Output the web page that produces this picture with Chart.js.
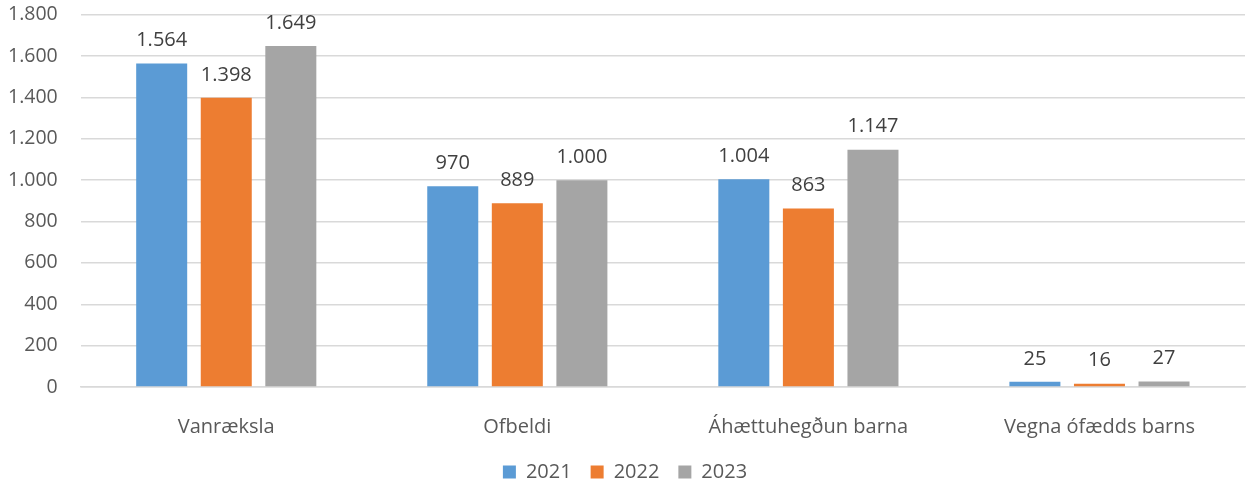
<!DOCTYPE html>
<html>
<head>
<meta charset="utf-8">
<script src="https://cdn.jsdelivr.net/npm/chart.js@4"></script>
<style>
  html, body { margin: 0; padding: 0; background: #fff; }
  #wrap { width: 1247px; height: 483px; }
</style>
</head>
<body>
<div id="wrap"><canvas id="barChart"></canvas></div>
<script>
// Gögn lesin af myndinni
const categories = ['Vanræksla', 'Ofbeldi', 'Áhættuhegðun barna', 'Vegna ófædds barns'];
const years = ['2021', '2022', '2023'];
const values2021 = [1564, 970, 1004, 25];
const values2022 = [1398, 889, 863, 16];
const values2023 = [1649, 1000, 1147, 27];
const colors = ['#5B9BD5', '#ED7D31', '#A5A5A5'];

const fmt = v => String(v).replace(/\B(?=(\d{3})+(?!\d))/g, '.');
const textColor = '#595959';
const fontFamily = '"Open Sans", sans-serif';

// Skrifa gildi fyrir ofan hverja súlu
const valueLabels = {
    id: 'valueLabels',
    afterDatasetsDraw(chart) {
        const ctx = chart.ctx;
        ctx.save();
        ctx.font = '20px ' + fontFamily;
        ctx.fillStyle = '#404040';
        ctx.textAlign = 'center';
        ctx.textBaseline = 'middle';
        chart.data.datasets.forEach((ds, i) => {
            chart.getDatasetMeta(i).data.forEach((bar, j) => {
                ctx.fillText(fmt(ds.data[j]), bar.x, bar.y - 23);
            });
        });
        ctx.restore();
    }
};

const data = {
    labels: categories,
    datasets: [
        { label: years[0], data: values2021, backgroundColor: colors[0] },
        { label: years[1], data: values2022, backgroundColor: colors[1] },
        { label: years[2], data: values2023, backgroundColor: colors[2] }
    ]
};

const barChart = new Chart(document.getElementById('barChart'), {
    type: 'bar',
    data: data,
    plugins: [valueLabels],
    options: {
        responsive: true,
        maintainAspectRatio: false,
        animation: false,
        datasets: { bar: { categoryPercentage: 0.6655, barPercentage: 0.79 } },
        layout: { padding: { top: 0, right: 2, left: 5, bottom: -9 } },
        plugins: {
            legend: {
                position: 'bottom',
                labels: {
                    boxWidth: 13, boxHeight: 13, padding: 19,
                    color: textColor, font: { size: 20, family: fontFamily }
                }
            },
            tooltip: { enabled: false }
        },
        scales: {
            x: {
                grid: { display: false },
                border: { color: '#d9d9d9', width: 1.5 },
                ticks: { color: textColor, padding: 20, font: { size: 20, family: fontFamily } },
                afterFit: s => { s.height -= 16; }
            },
            y: {
                min: 0, max: 1800,
                grid: { color: '#d9d9d9', lineWidth: 1.5, drawTicks: true, tickLength: 20, tickColor: 'rgba(0,0,0,0)' },
                border: { display: false },
                ticks: {
                    stepSize: 200, padding: 3, color: textColor,
                    font: { size: 19.5, family: fontFamily },
                    callback: v => fmt(v)
                }
            }
        }
    }
});
</script>
</body>
</html>
